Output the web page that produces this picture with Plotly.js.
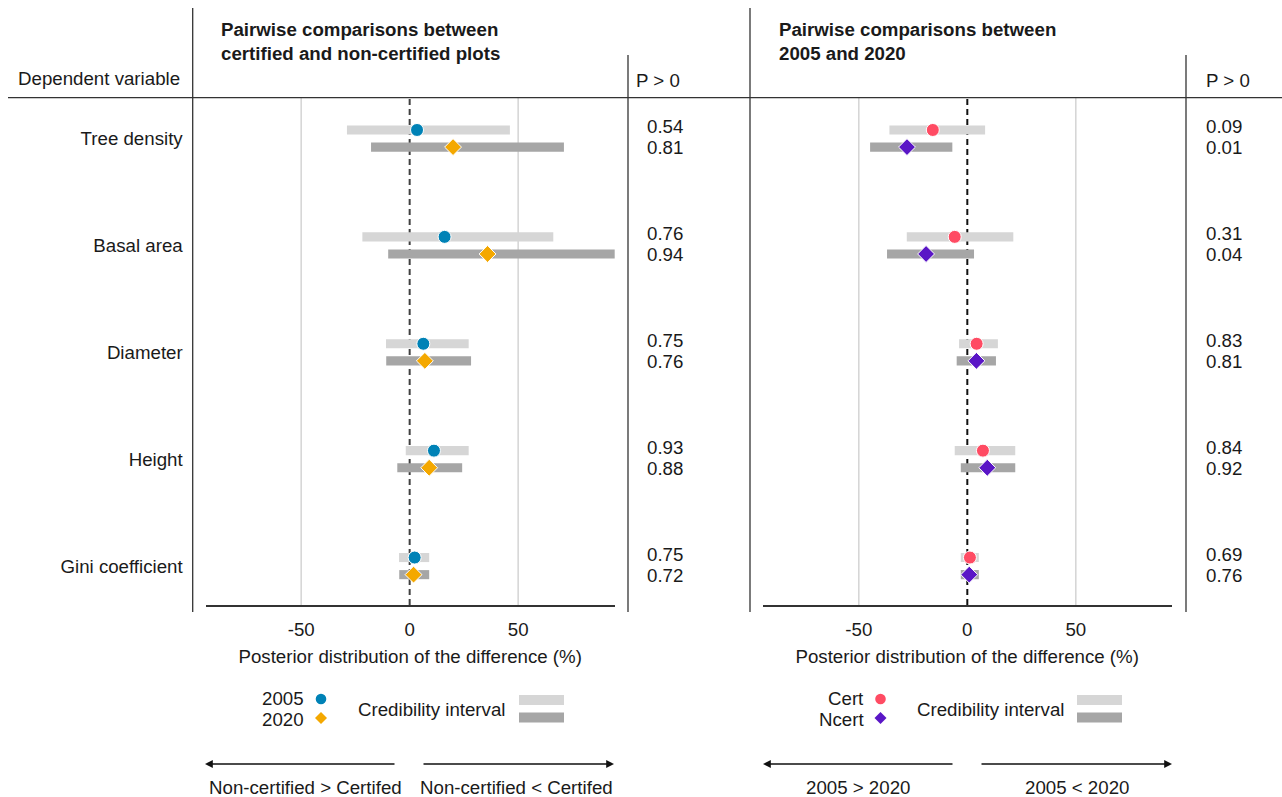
<!DOCTYPE html>
<html>
<head>
<meta charset="utf-8">
<script src="https://cdn.plot.ly/plotly-3.0.1.min.js"></script>
<style>
  html, body { margin: 0; padding: 0; background: #ffffff; }
  #chart { width: 1282px; height: 797px; }
</style>
</head>
<body>
<div id="chart"></div>
<script>
// ---------------- DATA ----------------
const categories = ['Tree density', 'Basal area', 'Diameter', 'Height', 'Gini coefficient'];

// Left panel: certified vs non-certified (years)
const mean2005 = [3.4, 16.1, 6.3, 11.2, 2.3];
const lo2005   = [-28.9, -21.8, -10.9, -1.8, -4.9];
const hi2005   = [46.2, 66.2, 27.2, 27.2, 9.0];
const mean2020 = [20.0, 35.9, 7.0, 9.0, 1.8];
const lo2020   = [-17.8, -9.9, -10.8, -5.7, -4.8];
const hi2020   = [71.1, 95.4, 28.3, 24.2, 9.0];
const p2005    = ['0.54', '0.76', '0.75', '0.93', '0.75'];
const p2020    = ['0.81', '0.94', '0.76', '0.88', '0.72'];

// Right panel: 2005 vs 2020 (certification)
const meanCert  = [-15.9, -5.8, 4.3, 7.2, 1.2];
const loCert    = [-35.9, -27.9, -3.8, -5.8, -3.0];
const hiCert    = [8.2, 21.2, 14.1, 22.1, 5.3];
const meanNcert = [-27.8, -19.0, 4.2, 9.2, 0.9];
const loNcert   = [-44.8, -37.0, -4.9, -3.0, -3.0];
const hiNcert   = [-6.9, 3.1, 13.2, 22.1, 5.3];
const pCert     = ['0.09', '0.31', '0.83', '0.84', '0.69'];
const pNcert    = ['0.01', '0.04', '0.81', '0.92', '0.76'];

const xTicks = [-50, 0, 50];

// ---------------- STYLE / LAYOUT HELPERS ----------------
const W = 1282, H = 797;
const px = v => v / W;
const py = v => 1 - v / H;
const FONT = 'Liberation Sans, Arial, Helvetica, sans-serif';
const FS = 18.7;
const C_BLUE = '#0082b6', C_AMBER = '#f4a800', C_PINK = '#ff4b63', C_PURPLE = '#5a16c6';
const C_LIGHT = '#d6d6d6', C_DARK = '#a6a6a6';
const OFF = 0.08;      // vertical offset of the two series within a category
const BARW = 0.085;    // bar thickness in category units

const idx = categories.map((_, i) => i);
const yUp = idx.map(i => i - OFF);
const yDn = idx.map(i => i + OFF);

function ciBar(lo, hi, y, color, xa) {
  return {
    type: 'bar', orientation: 'h', xaxis: xa, yaxis: 'y',
    base: lo, x: hi.map((h, i) => h - lo[i]), y: y, width: BARW,
    marker: { color: color, line: { width: 0 } },
    hoverinfo: 'skip', showlegend: false
  };
}
function pts(mean, y, color, symbol, size, xa) {
  return {
    type: 'scatter', mode: 'markers', xaxis: xa, yaxis: 'y',
    x: mean, y: y, cliponaxis: false,
    marker: { color: color, symbol: symbol, size: size, line: { color: '#ffffff', width: 1 } },
    hoverinfo: 'skip', showlegend: false
  };
}

const traces = [
  ciBar(lo2005, hi2005, yUp, C_LIGHT, 'x'),
  ciBar(lo2020, hi2020, yDn, C_DARK, 'x'),
  pts(mean2005, yUp, C_BLUE, 'circle', 13, 'x'),
  pts(mean2020, yDn, C_AMBER, 'diamond', 13, 'x'),
  ciBar(loCert, hiCert, yUp, C_LIGHT, 'x2'),
  ciBar(loNcert, hiNcert, yDn, C_DARK, 'x2'),
  pts(meanCert, yUp, C_PINK, 'circle', 13, 'x2'),
  pts(meanNcert, yDn, C_PURPLE, 'diamond', 13, 'x2')
];

const yDom = [py(605), py(97.7)];
const axFont = { family: FONT, size: FS, color: '#1a1a1a' };
function xAxis(domainPx, range) {
  return {
    domain: [px(domainPx[0]), px(domainPx[1])], range: range, anchor: 'y',
    tickvals: xTicks, ticktext: xTicks.map(String), ticks: '', showgrid: false, zeroline: false,
    showline: true, linecolor: '#333333', linewidth: 1.5,
    tickfont: axFont, ticklabelstandoff: 7, fixedrange: true,
    title: { text: 'Posterior distribution of the difference (%)', font: axFont, standoff: 11 }
  };
}

const shapes = [];
const line = (x0, y0, x1, y1, color, width) => shapes.push({
  type: 'line', xref: 'paper', yref: 'paper', x0: px(x0), y0: py(y0), x1: px(x1), y1: py(y1),
  line: { color: color, width: width }
});
// frame lines
line(8, 97.7, 1282, 97.7, '#333333', 1.3);
line(192.7, 8, 192.7, 612, '#333333', 1.3);
line(628, 55, 628, 612, '#333333', 1.3);
line(750, 8, 750, 612, '#333333', 1.3);
line(1186, 55, 1186, 612, '#333333', 1.3);
// reference lines (grid) for each panel
[['x', '#404040'], ['x2', '#111111']].forEach(([xa, zc]) => {
  xTicks.forEach(v => {
    shapes.push({
      type: 'line', xref: xa, yref: 'paper', x0: v, x1: v, y0: yDom[0], y1: yDom[1], layer: 'below',
      line: v === 0 ? { color: zc, width: 2, dash: '6px,4px' } : { color: '#d4d4d4', width: 1.5 }
    });
  });
});
// legend glyphs
function legendGlyphs(cx, c1, c2, barX0, barX1) {
  const r = 5.3;
  shapes.push({ type: 'circle', xref: 'paper', yref: 'paper',
    x0: px(cx - r), x1: px(cx + r), y0: py(699 + r), y1: py(699 - r),
    fillcolor: c1, line: { width: 0 } });
  const d = 6, cy = 718;
  shapes.push({ type: 'path', xref: 'paper', yref: 'paper',
    path: `M ${px(cx)} ${py(cy - d)} L ${px(cx + d)} ${py(cy)} L ${px(cx)} ${py(cy + d)} L ${px(cx - d)} ${py(cy)} Z`,
    fillcolor: c2, line: { width: 0 } });
  shapes.push({ type: 'rect', xref: 'paper', yref: 'paper',
    x0: px(barX0), x1: px(barX1), y0: py(705), y1: py(695), fillcolor: C_LIGHT, line: { width: 0 } });
  shapes.push({ type: 'rect', xref: 'paper', yref: 'paper',
    x0: px(barX0), x1: px(barX1), y0: py(722.5), y1: py(712.5), fillcolor: C_DARK, line: { width: 0 } });
}
legendGlyphs(321, C_BLUE, C_AMBER, 519, 564);
legendGlyphs(880.5, C_PINK, C_PURPLE, 1077, 1122);

const annotations = [];
const txt = (x, y, text, xanchor, extra) => annotations.push(Object.assign({
  xref: 'paper', yref: 'paper', x: px(x), y: py(y), text: text, showarrow: false,
  xanchor: xanchor, yanchor: 'middle', font: { family: FONT, size: FS, color: '#1a1a1a' }
}, extra || {}));

txt(182, 78, 'Dependent variable', 'right');
txt(219, 41, '<b>Pairwise comparisons between<br>certified and non-certified plots</b>', 'left', { align: 'left' });
txt(777, 41, '<b>Pairwise comparisons between<br>2005 and 2020</b>', 'left', { align: 'left' });
txt(634, 80, 'P > 0', 'left');
txt(1204, 80, 'P > 0', 'left');

// P > 0 values
const pText = (vals, dy, xPx) => vals.forEach((v, i) => annotations.push({
  xref: 'paper', yref: 'y', x: px(xPx), y: i + dy, text: v, showarrow: false,
  xanchor: 'left', yanchor: 'middle', font: { family: FONT, size: FS, color: '#1a1a1a' }
}));
pText(p2005, -0.11, 645);
pText(p2020, 0.085, 645);
pText(pCert, -0.11, 1204);
pText(pNcert, 0.085, 1204);

// legend texts
txt(306, 698, '2005', 'right');
txt(306, 719, '2020', 'right');
txt(507, 709, 'Credibility interval', 'right');
txt(866, 698, 'Cert', 'right');
txt(866, 719, 'Ncert', 'right');
txt(1066, 709, 'Credibility interval', 'right');

// direction arrows
const arrow = (headX, tailX) => annotations.push({
  xref: 'paper', yref: 'paper', x: px(headX), y: py(764), ax: tailX - headX, ay: 0,
  axref: 'pixel', ayref: 'pixel', text: '', showarrow: true,
  arrowhead: 2, arrowsize: 1.2, arrowwidth: 1.3, arrowcolor: '#111111', standoff: 0, startstandoff: 0
});
arrow(205, 396);
arrow(614, 422);
arrow(763, 954);
arrow(1172, 980);
txt(305, 787, 'Non-certified > Certifed', 'center');
txt(516, 787, 'Non-certified < Certifed', 'center');
txt(858, 787, '2005 > 2020', 'center');
txt(1077, 787, '2005 < 2020', 'center');

const layout = {
  width: W, height: H,
  margin: { l: 0, r: 0, t: 0, b: 0 },
  paper_bgcolor: '#ffffff', plot_bgcolor: 'rgba(0,0,0,0)',
  font: { family: FONT, size: FS, color: '#1a1a1a' },
  showlegend: false, barmode: 'overlay', hovermode: false,
  xaxis: xAxis([205.7, 614.7], [-94, 94.5]),
  xaxis2: xAxis([762.7, 1171.7], [-94.3, 94.2]),
  yaxis: {
    domain: yDom, range: [4.364, -0.382], anchor: 'x',
    tickvals: idx, ticktext: categories, ticks: '', showgrid: false, zeroline: false,
    showline: false, tickfont: axFont, ticklabelstandoff: 22, fixedrange: true
  },
  shapes: shapes,
  annotations: annotations
};

Plotly.newPlot('chart', traces, layout, { displayModeBar: false, staticPlot: true });
</script>
</body>
</html>
